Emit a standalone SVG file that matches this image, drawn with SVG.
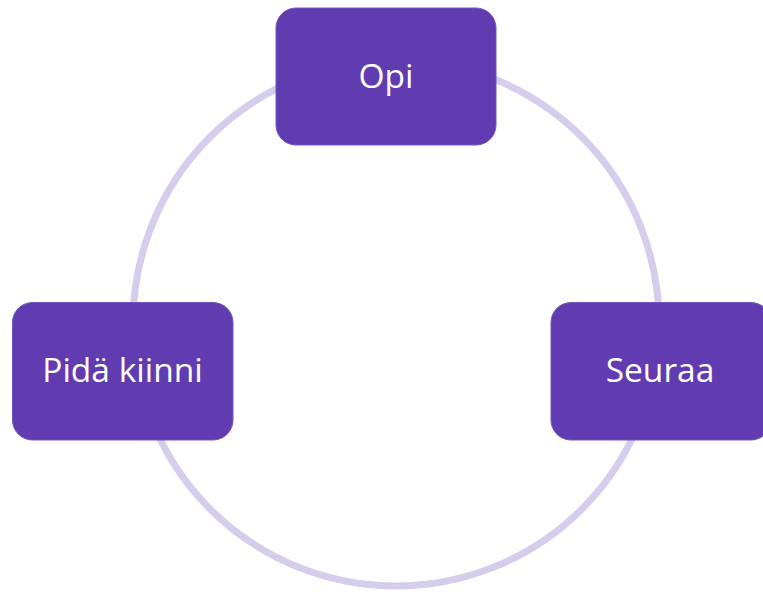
<svg xmlns="http://www.w3.org/2000/svg" width="763" height="592" viewBox="0 0 763 592">
  <style>
    .ring { fill: none; stroke: #D6CCEC; stroke-width: 7; }
    .box { fill: #603CB0; stroke: #7156BD; stroke-width: 1; }
    .label { fill: #FFFFFF; font-family: "Open Sans", "Liberation Sans", sans-serif; font-size: 33.5px; text-anchor: middle; }
  </style>
  <rect width="763" height="592" fill="#FFFFFF"/>
  <g id="connectors">
    <circle class="ring" cx="396" cy="323" r="263"/>
  </g>
  <g id="node-opi">
    <rect class="box" x="276" y="8" width="220" height="137" rx="20" ry="20"/>
    <text class="label" x="386" y="88">Opi</text>
  </g>
  <g id="node-seuraa">
    <rect class="box" x="551" y="302.5" width="220" height="137.5" rx="20" ry="20"/>
    <text class="label" x="660" y="382">Seuraa</text>
  </g>
  <g id="node-pida-kiinni">
    <rect class="box" x="12.5" y="302.5" width="220.5" height="137.5" rx="20" ry="20"/>
    <text class="label" x="122.5" y="382">Pidä kiinni</text>
  </g>
</svg>
